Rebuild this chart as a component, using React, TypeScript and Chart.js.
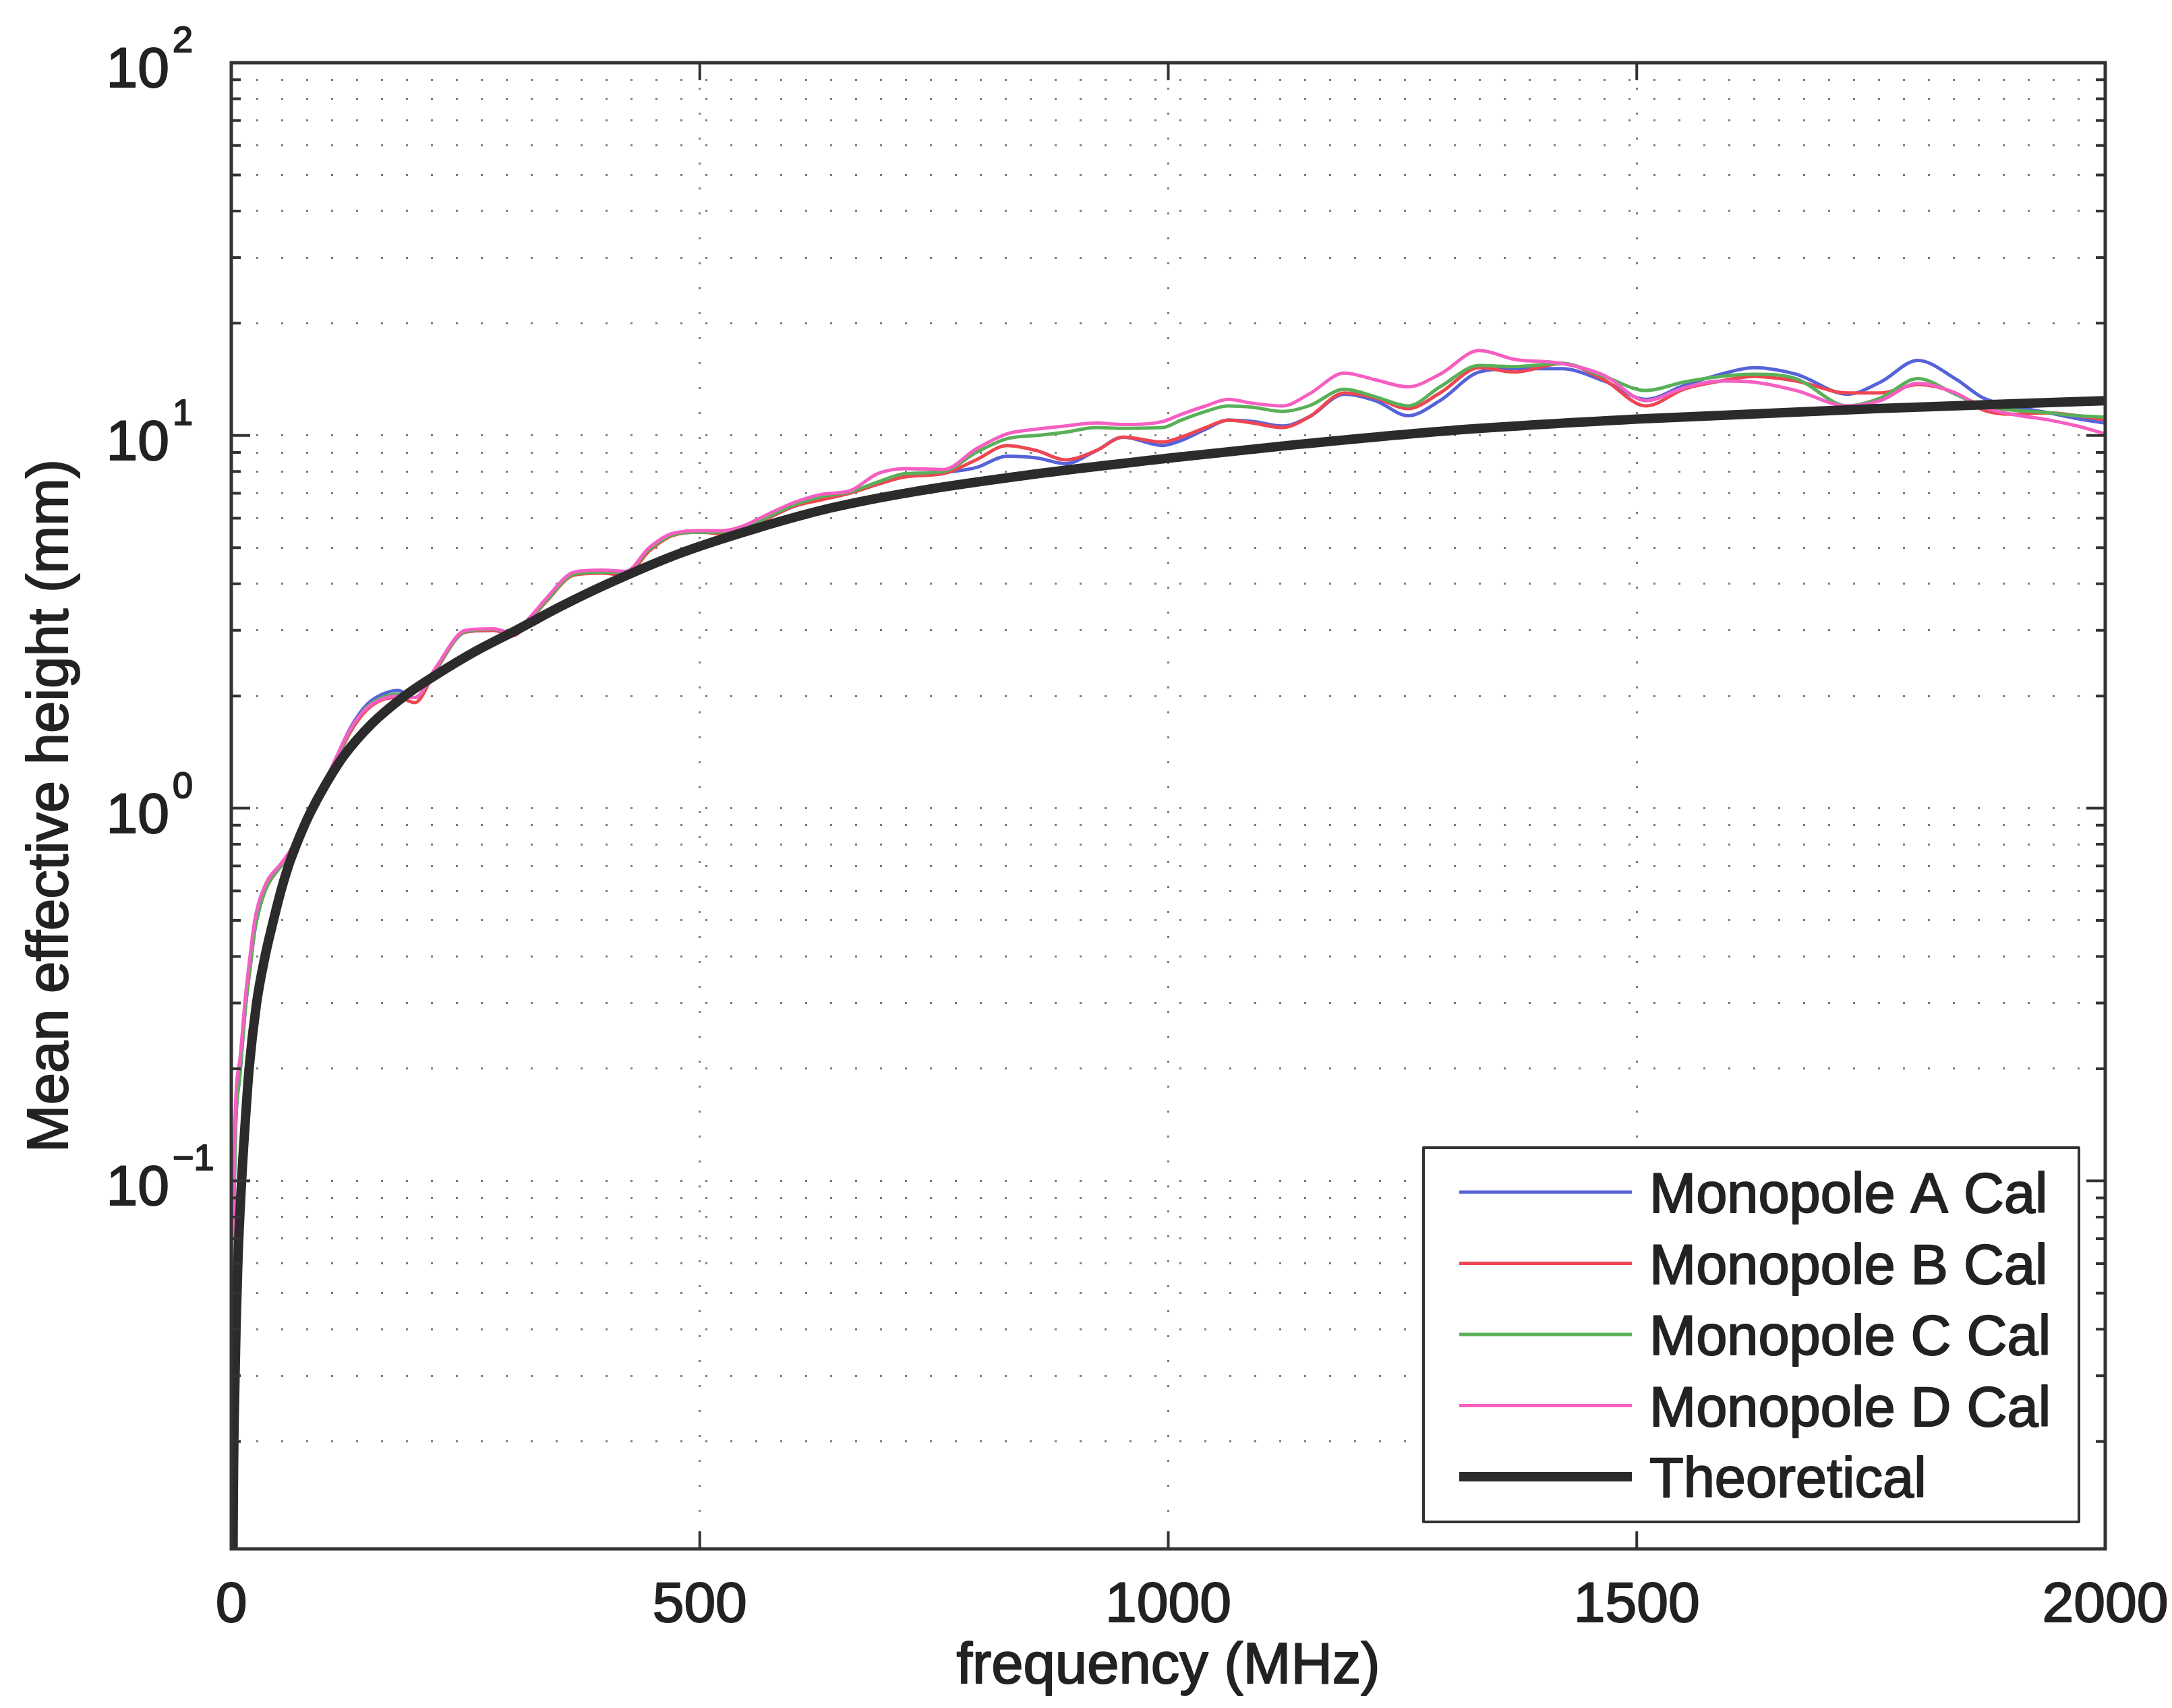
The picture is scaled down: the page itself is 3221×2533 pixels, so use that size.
import React, { useEffect, useRef } from "react";
import { Chart, registerables } from "chart.js";

Chart.register(...registerables);

const CANVAS_W = 3221;
const CANVAS_H = 2533;

// ---------- data (MHz, mm) ----------
const freqMeasured = [
  0, 3, 9, 15, 21, 25, 36, 53, 63, 75,
  86, 106, 127, 145, 163, 178, 196, 218, 250, 280,
  300, 320, 336, 366, 395, 421, 446, 470, 500, 525,
  545, 570, 600, 630,
  660, 690, 720, 760, 795, 828, 860, 890, 923, 952,
  994, 1014, 1040, 1064, 1090, 1122, 1150, 1188, 1221, 1256,
  1290, 1332, 1370, 1420, 1465, 1510, 1550, 1590, 1625, 1670,
  1725, 1760, 1800, 1840, 1870, 1900, 1940, 1970, 2000,
];

const monopoleA = [
  0.005, 0.09, 0.19, 0.29, 0.39, 0.47, 0.6, 0.7, 0.76, 0.88,
  1.0, 1.26, 1.64, 1.9, 2.03, 2.07, 1.98, 2.35, 2.97, 3.0,
  2.93, 3.24, 3.6, 4.25, 4.3, 4.28, 4.95, 5.4, 5.5, 5.5,
  5.58, 5.95, 6.45, 6.75,
  7.0, 7.4, 7.8, 7.95, 8.2, 8.8, 8.7, 8.4, 9.1, 9.9,
  9.4, 9.7, 10.4, 11.0, 10.9, 10.6, 11.2, 12.9, 12.4, 11.3,
  12.4, 14.8, 15.1, 15.1, 14.0, 12.5, 13.6, 14.6, 15.2, 14.6,
  12.9, 13.9, 15.9, 14.2, 12.6, 12.0, 11.5, 11.1, 10.8,
];

const monopoleB = [
  0.005, 0.1, 0.2, 0.3, 0.4, 0.48, 0.6, 0.7, 0.76, 0.88,
  1.0, 1.24, 1.6, 1.84, 1.96, 1.98, 1.92, 2.34, 2.97, 3.0,
  2.9, 3.22, 3.58, 4.22, 4.27, 4.22, 4.9, 5.38, 5.5, 5.45,
  5.55, 5.95, 6.45, 6.72,
  7.0, 7.4, 7.75, 7.9, 8.6, 9.4, 9.1, 8.6, 9.1, 9.9,
  9.6, 9.9, 10.5, 11.0, 10.8, 10.5, 11.2, 13.0, 12.6, 11.8,
  13.0, 15.2, 14.8, 15.6, 14.1, 12.0, 13.3, 14.0, 14.4, 14.0,
  13.0, 13.0, 13.7, 13.0, 11.7, 11.4, 11.5, 11.3, 11.0,
];

const monopoleC = [
  0.005, 0.09, 0.19, 0.29, 0.39, 0.47, 0.6, 0.7, 0.76, 0.88,
  1.0, 1.25, 1.62, 1.87, 1.99, 2.02, 1.98, 2.36, 2.98, 3.02,
  2.95, 3.25, 3.6, 4.25, 4.3, 4.3, 4.95, 5.4, 5.5, 5.5,
  5.6, 6.0, 6.5, 6.85,
  7.05, 7.5, 7.9, 8.0, 9.0, 9.8, 10.0, 10.2, 10.5, 10.45,
  10.5, 11.0, 11.6, 12.0, 11.9, 11.6, 12.0, 13.3, 12.7, 12.0,
  13.5, 15.4, 15.3, 15.6, 14.4, 13.2, 13.9, 14.4, 14.6, 14.2,
  12.0, 12.6, 14.2, 12.9, 12.0, 11.7, 11.5, 11.3, 11.2,
];

const monopoleD = [
  0.005, 0.11, 0.21, 0.31, 0.42, 0.5, 0.62, 0.71, 0.77, 0.89,
  1.0, 1.27, 1.63, 1.86, 1.97, 2.0, 1.98, 2.38, 3.0, 3.03,
  2.95, 3.28, 3.65, 4.3, 4.35, 4.32, 5.0, 5.45, 5.55, 5.55,
  5.7, 6.1, 6.6, 6.95,
  7.1, 7.9, 8.15, 8.1, 9.2, 10.1, 10.4, 10.6, 10.8, 10.7,
  10.9, 11.4, 12.0, 12.5, 12.2, 12.0, 12.9, 14.7, 14.1, 13.5,
  14.6, 16.9, 16.0, 15.6, 14.5, 12.4, 13.4, 14.0, 13.9, 13.2,
  12.0, 12.4, 13.8, 13.0, 11.9, 11.4, 11.0, 10.6, 10.1,
];

const freqTheory = [
  0, 2, 4, 7, 11, 15, 19, 27, 36, 45, 53, 61, 70, 77, 85,
  100, 120, 150, 185, 220, 260, 305, 350, 400, 480, 560, 640,
  725, 850, 1000, 1138, 1300, 1500, 1755, 2000,
];
const theoretical = [
  0.0005, 0.012, 0.03, 0.06, 0.1, 0.145, 0.2, 0.3, 0.4, 0.5, 0.6, 0.7, 0.805, 0.887, 0.98,
  1.15, 1.38, 1.685, 2.0, 2.29, 2.63, 3.01, 3.46, 3.98, 4.84, 5.63, 6.39,
  7.04, 7.83, 8.69, 9.46, 10.3, 11.06, 11.8, 12.4,
];

const seriesLabels = ["Monopole A Cal", "Monopole B Cal", "Monopole C Cal", "Monopole D Cal", "Theoretical"];
const seriesColors = ["#5663d8", "#ee4652", "#58b058", "#f65fc2", "#2b2b2b"];
const seriesWidths = [5, 5, 5, 5, 14];

const xTickValues = [0, 500, 1000, 1500, 2000];
const yLabelExponents = [-1, 0, 1, 2];
const yMin = 0.0103;
const yMax = 100;

const xTitle = "frequency (MHz)";
const yTitle = "Mean effective height (mm)";

const FONT = '"Liberation Sans", Arial, Helvetica, sans-serif';
const TEXT_COLOR = "#222222";

function toPoints(xs: number[], ys: number[]) {
  return xs.map((x, i) => ({ x, y: ys[i] }));
}

function buildLogTicks() {
  const ticks: { value: number; major: boolean }[] = [];
  for (let e = -2; e <= 1; e++) {
    for (let m = 1; m <= 9; m++) {
      const v = m * Math.pow(10, e);
      if (v >= yMin && v <= yMax) ticks.push({ value: v, major: m === 1 });
    }
  }
  ticks.push({ value: 100, major: true });
  return ticks;
}

function drawText(ctx: CanvasRenderingContext2D, text: string, x: number, y: number) {
  ctx.fillText(text, x, y);
  ctx.strokeText(text, x, y);
}

const matlabAxesPlugin = {
  id: "matlabAxes",
  afterDraw(chart: any) {
    const { ctx, chartArea, scales } = chart;
    const { left, right, top, bottom } = chartArea;
    const xs = scales.x;
    const ys = scales.y;
    ctx.save();

    // inward ticks
    ctx.strokeStyle = "#333";
    ctx.lineWidth = 4;
    for (const t of ys.ticks) {
      const py = ys.getPixelForValue(t.value);
      const len = t.major ? 28 : 14;
      ctx.beginPath();
      ctx.moveTo(left, py);
      ctx.lineTo(left + len, py);
      ctx.moveTo(right, py);
      ctx.lineTo(right - len, py);
      ctx.stroke();
    }
    for (const v of xTickValues) {
      const px = xs.getPixelForValue(v);
      ctx.beginPath();
      ctx.moveTo(px, bottom);
      ctx.lineTo(px, bottom - 26);
      ctx.moveTo(px, top);
      ctx.lineTo(px, top + 26);
      ctx.stroke();
    }

    // box
    ctx.lineWidth = 5;
    ctx.strokeRect(left, top, right - left, bottom - top);

    // tick labels
    ctx.fillStyle = TEXT_COLOR;
    ctx.strokeStyle = TEXT_COLOR;
    ctx.lineWidth = 2;
    ctx.lineJoin = "round";
    ctx.textBaseline = "alphabetic";
    ctx.font = `84px ${FONT}`;
    ctx.textAlign = "center";
    for (const v of xTickValues) {
      drawText(ctx, String(v), xs.getPixelForValue(v), bottom + 108);
    }
    for (const e of yLabelExponents) {
      const py = ys.getPixelForValue(Math.pow(10, e));
      ctx.font = `84px ${FONT}`;
      ctx.textAlign = "right";
      drawText(ctx, "10", left - 92, py + 36);
      ctx.font = `54px ${FONT}`;
      ctx.textAlign = "left";
      drawText(ctx, e < 0 ? "\u2212" + Math.abs(e) : String(e), left - 87, py - 16);
    }

    // axis titles
    ctx.font = `85px ${FONT}`;
    ctx.textAlign = "center";
    drawText(ctx, xTitle, (left + right) / 2, bottom + 199);
    ctx.save();
    ctx.translate(100, (top + bottom) / 2);
    ctx.rotate(-Math.PI / 2);
    drawText(ctx, yTitle, 0, 0);
    ctx.restore();

    // legend
    const lw = 972;
    const lh = 555;
    const lx = right - 39 - lw;
    const ly = bottom - 40 - lh;
    ctx.fillStyle = "#ffffff";
    ctx.fillRect(lx, ly, lw, lh);
    ctx.lineWidth = 4;
    ctx.strokeStyle = "#333";
    ctx.strokeRect(lx, ly, lw, lh);
    ctx.font = `83px ${FONT}`;
    ctx.textAlign = "left";
    chart.data.datasets.forEach((ds: any, i: number) => {
      const cy = ly + 66 + i * 105.5;
      ctx.strokeStyle = ds.borderColor;
      ctx.lineWidth = ds.borderWidth;
      ctx.beginPath();
      ctx.moveTo(lx + 53, cy);
      ctx.lineTo(lx + 309, cy);
      ctx.stroke();
      ctx.fillStyle = TEXT_COLOR;
      ctx.strokeStyle = TEXT_COLOR;
      ctx.lineWidth = 2;
      drawText(ctx, ds.label, lx + 335, cy + 30);
    });

    ctx.restore();
  },
};

export default function App() {
  const canvasRef = useRef<HTMLCanvasElement | null>(null);

  useEffect(() => {
    const canvas = canvasRef.current;
    if (!canvas) return;
    const seriesData = [
      toPoints(freqMeasured, monopoleA),
      toPoints(freqMeasured, monopoleB),
      toPoints(freqMeasured, monopoleC),
      toPoints(freqMeasured, monopoleD),
      toPoints(freqTheory, theoretical),
    ];
    const orders = [4, 3, 2, 1, 0];
    const gridStyle = { color: "rgba(110,110,110,0.9)", lineWidth: 3, drawTicks: false };
    const chart = new Chart(canvas, {
      type: "line",
      data: {
        datasets: seriesData.map((d, i) => ({
          label: seriesLabels[i],
          data: d,
          borderColor: seriesColors[i],
          backgroundColor: seriesColors[i],
          borderWidth: seriesWidths[i],
          pointRadius: 0,
          fill: false,
          cubicInterpolationMode: "monotone",
          order: orders[i],
          clip: 0,
        })),
      },
      options: {
        responsive: false,
        animation: false,
        devicePixelRatio: 1,
        events: [],
        layout: { padding: { left: 0, top: 93, right: 99, bottom: 0 } },
        plugins: { legend: { display: false }, tooltip: { enabled: false } },
        scales: {
          x: {
            type: "linear",
            min: 0,
            max: 2000,
            ticks: { display: false, stepSize: 500 },
            grid: gridStyle,
            border: { display: false, dash: [3, 34] },
            afterFit: (s: any) => {
              s.height = 236;
            },
          },
          y: {
            type: "logarithmic",
            min: yMin,
            max: yMax,
            ticks: { display: false },
            afterBuildTicks: (s: any) => {
              s.ticks = buildLogTicks();
            },
            grid: gridStyle,
            border: { display: false, dash: [3, 34] },
            afterFit: (s: any) => {
              s.width = 343;
            },
          },
        },
      } as any,
      plugins: [matlabAxesPlugin],
    });
    return () => chart.destroy();
  }, []);

  return (
    <div style={{ position: "absolute", left: 0, top: 0, width: CANVAS_W, height: CANVAS_H, background: "#ffffff" }}>
      <canvas ref={canvasRef} width={CANVAS_W} height={CANVAS_H} style={{ width: CANVAS_W, height: CANVAS_H, display: "block" }} />
    </div>
  );
}
